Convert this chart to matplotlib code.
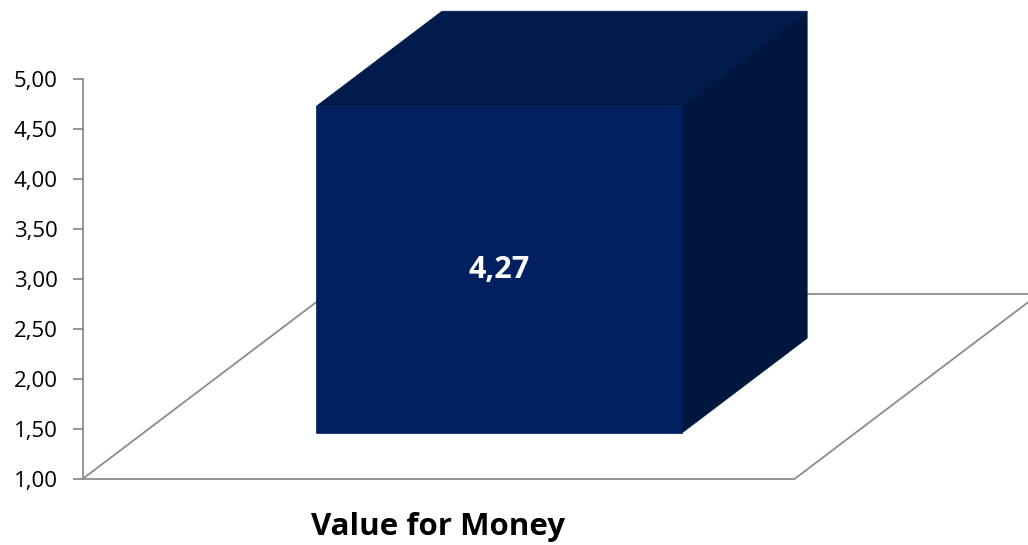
import matplotlib
matplotlib.use('Agg')
import matplotlib.pyplot as plt
from matplotlib.patches import Polygon
import numpy as np

plt.rcParams['font.family'] = ['Open Sans', 'DejaVu Sans']

categories = ['Value for Money']
values = [4.27]
yticks = [1.0, 1.5, 2.0, 2.5, 3.0, 3.5, 4.0, 4.5, 5.0]
ytick_labels = ['1,00', '1,50', '2,00', '2,50', '3,00', '3,50', '4,00', '4,50', '5,00']

# oblique 3d look: depth z in [0, 1] shifts points right and up
DX = 0.3434
DY = 1.85
BASE = 1.0

def proj(x, y, z):
    return (x + z * DX, y + z * DY)

fig = plt.figure(figsize=(10.28, 5.45), dpi=100)
ax = fig.add_axes([0, 0, 1, 1])
ax.set_xlim(-0.1159, 1.328)
ax.set_ylim(0.34, 5.79)

grey = '#8c8c8c'

# floor
floor = [proj(0, BASE, 0), proj(1, BASE, 0), proj(1, BASE, 1), proj(0, BASE, 1)]
ax.add_patch(Polygon(floor, closed=True, facecolor='white', edgecolor=grey, lw=1.3, zorder=1))

# bars
n = len(categories)
w = 0.513
z0, z1 = 0.247, 0.761
front_c, top_c, side_c = '#00205f', '#001a4c', '#00163e'
for i, (cat, v) in enumerate(zip(categories, values)):
    xc = (i + 0.5) / n
    x0, x1 = xc - w / 2, xc + w / 2
    front = [proj(x0, BASE, z0), proj(x1, BASE, z0), proj(x1, v, z0), proj(x0, v, z0)]
    side = [proj(x1, BASE, z0), proj(x1, BASE, z1), proj(x1, v, z1), proj(x1, v, z0)]
    top = [proj(x0, v, z0), proj(x1, v, z0), proj(x1, v, z1), proj(x0, v, z1)]
    ax.add_patch(Polygon(side, closed=True, facecolor=side_c, edgecolor=side_c, lw=0.5, zorder=3))
    ax.add_patch(Polygon(top, closed=True, facecolor=top_c, edgecolor=top_c, lw=0.5, zorder=3))
    ax.add_patch(Polygon(front, closed=True, facecolor=front_c, edgecolor=front_c, lw=0.5, zorder=4))
    cx, cy = proj(xc, (BASE + v) / 2, z0)
    ax.text(cx, cy, f'{v:.2f}'.replace('.', ','), color='white', fontsize=22,
            fontweight='bold', ha='center', va='center', zorder=5)
    ax.text(xc, 0.52, cat, color='black', fontsize=22.5, fontweight='bold',
            ha='center', va='center')

# value axis
for s in ['top', 'right', 'bottom']:
    ax.spines[s].set_visible(False)
ax.spines['left'].set_position(('data', 0))
ax.spines['left'].set_bounds(1, 5)
ax.spines['left'].set_color(grey)
ax.spines['left'].set_linewidth(1.3)
ax.set_yticks(yticks)
ax.set_yticklabels(ytick_labels)
ax.tick_params(axis='y', direction='out', length=7, width=1.3, color=grey,
               labelsize=16, labelcolor='black', pad=11)
ax.set_xticks([])
ax.patch.set_visible(False)

fig.savefig('out.png', dpi=100)
